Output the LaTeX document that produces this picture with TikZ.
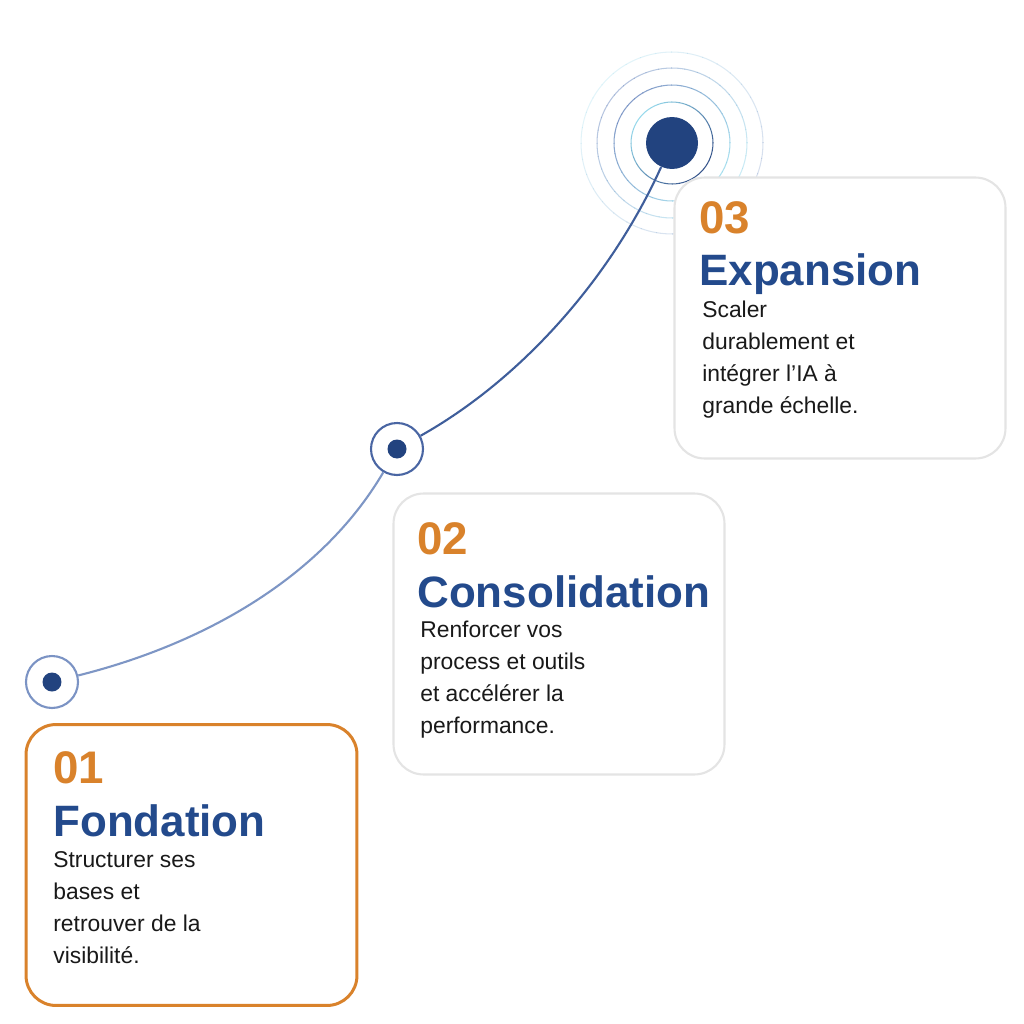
\documentclass[tikz,border=0pt]{standalone}
\usepackage{fontspec}
\setmainfont{Liberation Sans}
\usetikzlibrary{calc}

\definecolor{stepnavy}{HTML}{22437F}
\definecolor{titleblue}{HTML}{234A8C}
\definecolor{numorange}{HTML}{D9822B}
\definecolor{cardgray}{HTML}{E4E4E4}
\definecolor{ringmid}{HTML}{4A66A3}
\definecolor{ringlow}{HTML}{7B93C4}
\definecolor{pathlow}{HTML}{7E96C5}
\definecolor{pathhigh}{HTML}{3F5E9B}
\definecolor{wavecyan}{HTML}{8ED6EA}
\definecolor{waveblue}{HTML}{5D7DB8}

\begin{document}
\begin{tikzpicture}[x=0.02cm, y=-0.02cm,
    card/.style={rectangle, rounded corners=0.6cm, draw=cardgray, line width=1.2pt, fill=white, minimum width=6.62cm, minimum height=5.62cm},
    activecard/.style={card, draw=numorange, line width=1.7pt},
    ringnode/.style={circle, draw=#1, line width=1.2pt, fill=white, minimum size=1.04cm, inner sep=0pt},
    hub/.style={circle, fill=stepnavy, minimum size=1.04cm, inner sep=0pt},
    innerdot/.style={circle, fill=stepnavy, minimum size=0.38cm, inner sep=0pt},
    stepnum/.style={anchor=base west, inner sep=0pt, font=\fontsize{26}{26}\selectfont\bfseries, text=numorange},
    steptitle/.style={anchor=base west, inner sep=0pt, font=\fontsize{25}{25}\selectfont\bfseries, text=titleblue},
    stepdesc/.style={anchor=base west, inner sep=0pt, align=left, font=\fontsize{13}{18.1}\selectfont, text=black!90},
    link/.style={line width=1.2pt}
]
\useasboundingbox (0,0) rectangle (1024,1024);

% top step with its waves
\node[hub] (n3) at (672,143) {};
\begin{scope}[shift={(n3.center)}, x=1cm, y=1cm]
  \foreach \r/\ca/\cb/\op in {0.82/wavecyan/stepnavy/0.9, 1.16/waveblue/wavecyan/0.75, 1.50/waveblue/wavecyan/0.45, 1.82/wavecyan/waveblue/0.25}{
    \foreach \a in {0,10,...,350}{
      \pgfmathsetmacro\m{50+50*cos(\a-135)}
      \draw[line width=0.6pt, \ca!\m!\cb, draw opacity=\op] (\a:\r) arc[start angle=\a, delta angle=10.5, radius=\r];
    }
  }
\end{scope}

% cards
\node[card] (box3) at (840,318) {};
\node[card] (box2) at (559,634) {};
\node[activecard] (box1) at (191.5,865) {};

% steps
\node[ringnode=ringlow] (n1) at (52,682) {};
\node[innerdot] (d1) at (n1) {};
\node[ringnode=ringmid] (n2) at (397,449) {};
\node[innerdot] (d2) at (n2) {};

\draw[link, pathlow] (n1) .. controls (200,645) and (320,580) .. (n2);
\draw[link, pathhigh] (n2) .. controls (520,380) and (610,280) .. (n3);

% texts (desc nodes sit on their last line)
\node[stepnum] (num3) at (699,233) {03};
\node[steptitle] (title3) at (699,285) {Expansion};
\node[stepdesc] (desc3) at (702,413) {Scaler\\durablement et\\intégrer l’IA à\\grande échelle.};

\node[stepnum] (num2) at (417,554) {02};
\node[steptitle] (title2) at (417,607) {Consolidation};
\node[stepdesc] (desc2) at (420,733) {Renforcer vos\\process et outils\\et accélérer la\\performance.};

\node[stepnum] (num1) at (53,783) {01};
\node[steptitle] (title1) at (53,836) {Fondation};
\node[stepdesc] (desc1) at (53,963) {Structurer ses\\bases et\\retrouver de la\\visibilité.};
\end{tikzpicture}
\end{document}
